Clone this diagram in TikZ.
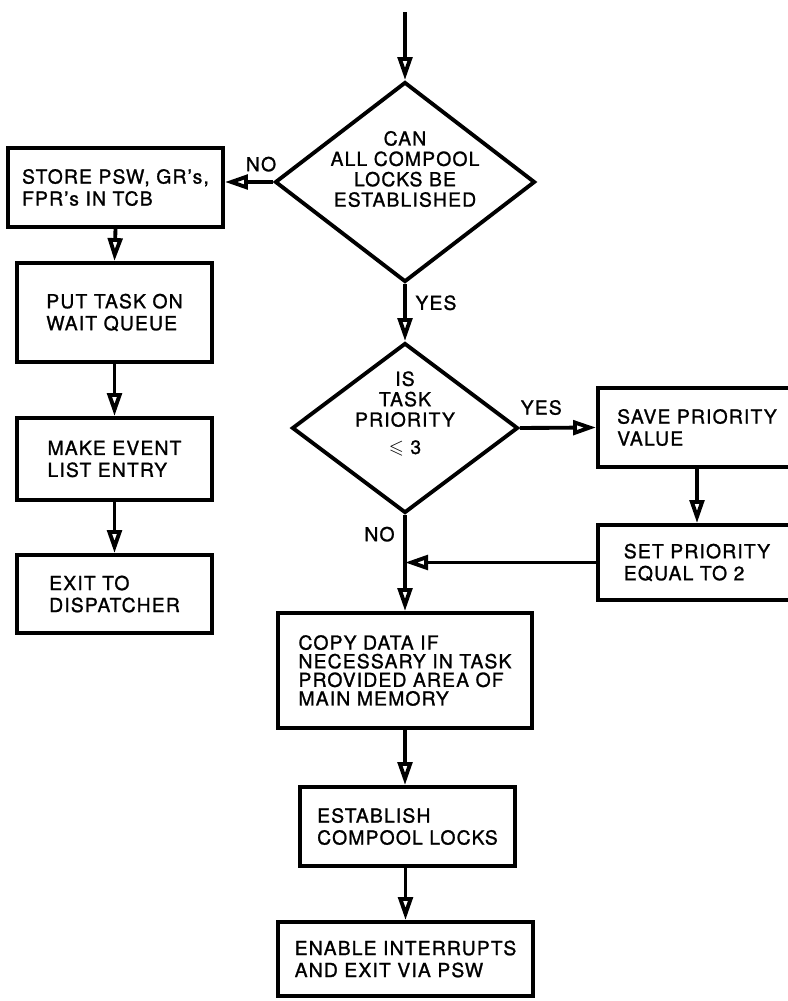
\documentclass[tikz,border=0pt]{standalone}
\usepackage{amssymb}
\usepackage{fontspec}
\setmainfont{TeX Gyre Heros}[LetterSpace=6,FakeBold=1.2]
\usetikzlibrary{arrows.meta,shapes.geometric,positioning}

\begin{document}
\begin{tikzpicture}[x=0.2mm,y=-0.2mm,->,>={Triangle[open,length=4.6mm,width=2.9mm]},
  line width=2.2pt,
  every node/.style={font=\fontsize{11}{12.5}\selectfont},
  box node/.style={rectangle,draw,align=left,inner sep=0pt},
  dec node/.style={diamond,draw,inner sep=0pt},
  dec text/.style={align=center,font=\fontsize{11}{11.6}\selectfont}]

  \useasboundingbox (0,0) rectangle (787,1001);

  \coordinate (start) at (405,12);

  % decisions
  \node[dec node,minimum width=52mm,minimum height=40mm,
    label={[dec text,yshift=2.6mm]center:CAN\\ALL COMPOOL\\LOCKS BE\\ESTABLISHED}] (can) at (405,182) {};
  \node[dec node,minimum width=45.2mm,minimum height=34mm,
    label={[dec text,yshift=2.8mm]center:IS\\TASK\\PRIORITY\\[4pt]$\leqslant$ 3}] (prio) at (405,428) {};

  % left column
  \node[box node,minimum width=43mm,minimum height=15.8mm] (store) at (115.5,187.5) {STORE PSW, GR's,\\FPR's IN TCB};
  \node[box node,minimum width=39mm,minimum height=19.8mm] (wait) at (114.5,312.5) {PUT TASK ON\\WAIT QUEUE};
  \node[box node,minimum width=39mm,minimum height=16.4mm] (event) at (114.5,459) {MAKE EVENT\\LIST ENTRY};
  \node[box node,minimum width=39mm,minimum height=15.6mm] (exit) at (114.5,594) {EXIT TO\\DISPATCHER};

  % right column
  \node[box node,minimum width=39.6mm,minimum height=15.8mm] (save) at (697,427.5) {SAVE PRIORITY\\VALUE};
  \node[box node,minimum width=39.6mm,minimum height=15mm] (setprio) at (697,562.5) {SET PRIORITY\\EQUAL TO 2};

  % main column
  \node[box node,minimum width=50.8mm,minimum height=23mm,font=\fontsize{11}{10.6}\selectfont] (copy) at (405,670.5)
    {COPY DATA IF\\NECESSARY IN TASK\\PROVIDED AREA OF\\MAIN MEMORY};
  \node[box node,minimum width=43mm,minimum height=15.8mm] (lock) at (407.5,826.5) {ESTABLISH\\COMPOOL LOCKS};
  \node[box node,minimum width=51mm,minimum height=14.8mm] (enable) at (405.5,959) {ENABLE INTERRUPTS\\AND EXIT VIA PSW};

  \path[every node/.style={font=\fontsize{11}{12.5}\selectfont,inner sep=2pt}]
    (start) edge (can.north)
    (can.west) edge node[above,pos=0.25,yshift=1mm] {NO} (can.west -| store.east)
    (can.south) edge node[right,pos=0.33,xshift=1mm] {YES} (prio.north)
    (prio.east) edge node[above,pos=0.28,yshift=1.5mm] {YES} (save.west)
    (prio.south) edge node[left,pos=0.2,xshift=-1mm] {NO} (copy.north)
    (save.south) edge (setprio.north)
    (setprio.west) edge (setprio.west -| prio.south)
    (store.south) edge (wait.north)
    (wait.south) edge (event.north)
    (event.south) edge (exit.north)
    (copy.south) edge (lock.north -| copy.south)
    (lock.south -| enable.north) edge (enable.north)
    ;

\end{tikzpicture}
\end{document}
